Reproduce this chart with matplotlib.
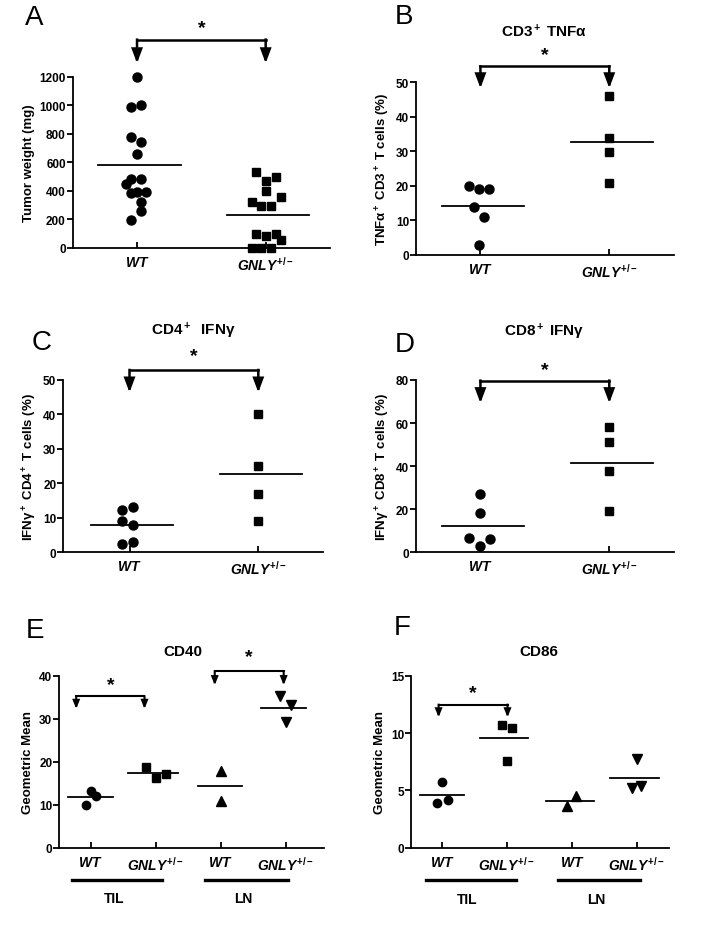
import matplotlib
matplotlib.use("Agg")
import matplotlib.pyplot as plt
import numpy as np

plt.rcParams['font.family'] = ['Liberation Sans', 'DejaVu Sans']
plt.rcParams['font.weight'] = 'bold'
plt.rcParams['axes.labelweight'] = 'bold'
plt.rcParams['mathtext.fontset'] = 'custom'
plt.rcParams['mathtext.rm'] = 'Liberation Sans:bold'
plt.rcParams['mathtext.it'] = 'Liberation Sans:italic:bold'
plt.rcParams['mathtext.bf'] = 'Liberation Sans:bold'

# ---- data ----
tick2 = [r'$\mathit{WT}$', r'$\mathit{GNLY}^{+/-}$']
tick4 = [r'$\mathit{WT}$', r'$\mathit{GNLY}^{+/-}$', r'$\mathit{WT}$', r'$\mathit{GNLY}^{+/-}$']
tissues = ['TIL', 'LN']

# A tumor weight (mg)
a_wt = [1200, 989, 1001, 774, 744, 657, 482, 482, 447, 393, 384, 393, 323, 255, 196]
a_wt_dx = [0, -0.047, 0.03, -0.047, 0.03, 0, -0.047, 0.03, -0.086, 0, -0.047, 0.07, 0.03, 0.03, -0.047]
a_ko = [531, 468, 494, 395, 353, 320, 292, 292, 94, 80, 94, 51, 0, 0, 0]
a_ko_dx = [-0.073, 0.005, 0.083, 0.005, 0.122, -0.11, -0.034, 0.044, -0.073, 0.005, 0.083, 0.122, -0.11, -0.034, 0.044]

# B CD3+ TNFa
b_wt = [20.0, 19.0, 19.0, 13.9, 10.9, 3.0]
b_wt_dx = [-0.09, -0.013, 0.07, -0.05, 0.03, -0.01]
b_ko = [45.9, 34.0, 29.9, 20.9]

# C CD4+ IFNg
c_wt = [12.2, 13.1, 9.2, 7.9, 2.4, 3.0]
c_wt_dx = [-0.055, 0.026, -0.055, 0.026, -0.055, 0.026]
c_ko = [40.0, 25.0, 17.0, 9.1]

# D CD8+ IFNg
d_wt = [27.1, 18.1, 6.5, 6.2, 3.1]
d_wt_dx = [0, 0, -0.088, 0.073, 0]
d_ko = [58.3, 51.1, 37.9, 19.0]

# E CD40 geometric mean
e_til_wt = [13.2, 10.0, 12.0]
e_til_wt_dx = [0, -0.07, 0.08]
e_til_ko = [18.8, 16.3, 17.1]
e_til_ko_dx = [-0.15, 0, 0.16]
e_ln_wt = [17.8, 10.8]
e_ln_wt_dx = [0, 0]
e_ln_ko = [35.2, 33.2, 29.2]
e_ln_ko_dx = [-0.08, 0.08, 0]

# F CD86 geometric mean
f_til_wt = [5.7, 3.9, 4.2]
f_til_wt_dx = [0, -0.07, 0.09]
f_til_ko = [10.67, 10.4, 7.56]
f_til_ko_dx = [-0.077, 0.077, 0]
f_ln_wt = [3.66, 4.48]
f_ln_wt_dx = [-0.08, 0.07]
f_ln_ko = [7.73, 5.2, 5.35]
f_ln_ko_dx = [0, -0.08, 0.07]

W, H = 724, 928
fig = plt.figure(figsize=(W / 100, H / 100), dpi=100)
fig.patch.set_facecolor('white')


def fx(x):
    return x / W


def fy(y):
    return 1 - y / H


def make_ax(x0, x1, ytop, ybot):
    ax = fig.add_axes([fx(x0), fy(ybot), fx(x1 - x0), (ybot - ytop) / H])
    ax.spines['top'].set_visible(False)
    ax.spines['right'].set_visible(False)
    for s in ['left', 'bottom']:
        ax.spines[s].set_linewidth(1.3)
    ax.tick_params(axis='y', direction='out', length=4, width=1.3, labelsize=8.5, pad=1)
    ax.tick_params(axis='x', direction='in', length=4, width=1.3, labelsize=10, pad=5)
    ax.set_facecolor('none')
    return ax


def dots(ax, x, vals, dx, marker, ms, half=0.32, shift=0.02):
    xs = x + np.array(dx)
    ax.plot(xs, vals, linestyle='none', marker=marker, ms=ms, color='black', clip_on=False, zorder=3)
    m = np.mean(vals)
    ax.plot([x - half + shift, x + half + shift], [m, m], color='black', lw=1.3, clip_on=False)


def bracket(ax, x0, x1, top, tip, star, hw=0.3, hl=0.8, lw=1.8, ms=14):
    ax.plot([x0, x1], [top, top], color='black', lw=lw, clip_on=False, solid_capstyle='projecting')
    for xx in (x0, x1):
        ax.annotate('', xy=(xx, tip), xytext=(xx, top), annotation_clip=False,
                    arrowprops=dict(arrowstyle='-|>,head_width=%s,head_length=%s' % (hw, hl),
                                    color='black', lw=lw, shrinkA=0, shrinkB=0,
                                    joinstyle='miter', capstyle='projecting'))
    ax.text((x0 + x1) / 2, star, '*', ha='center', va='center', fontsize=ms, clip_on=False)


def letter(x, y, s):
    fig.text(fx(x), fy(y), s, fontsize=20, fontweight='normal', ha='center', va='center')


def group_bar(ax, spans, ybar, ylab):
    tr = ax.get_xaxis_transform()
    for (x0, x1), name in zip(spans, tissues):
        ax.plot([x0, x1], [ybar, ybar], color='black', lw=2.4, transform=tr, clip_on=False)
        ax.text((x0 + x1) / 2 - 0.05, ylab, name, transform=tr, ha='center', va='center', fontsize=10)


# ---- A ----
ax = make_ax(72.7, 330, 77.7, 248.7)
dots(ax, 0, a_wt, a_wt_dx, 'o', 6.5)
dots(ax, 1, a_ko, a_ko_dx, 's', 6)
ax.set_xlim(-0.5, 1.5)
ax.set_ylim(0, 1200)
ax.set_yticks([0, 200, 400, 600, 800, 1000, 1200])
ax.set_xticks([0, 1], tick2)
ax.set_ylabel('Tumor weight (mg)', fontsize=9.5, labelpad=3)
bracket(ax, 0, 1, 1460, 1295, 1545)
letter(34, 18, 'A')

# ---- B ----
ax = make_ax(416, 673.7, 83.3, 256)
dots(ax, 0, b_wt, b_wt_dx, 'o', 6.5)
dots(ax, 1, b_ko, [0] * len(b_ko), 's', 6)
ax.set_xlim(-0.5, 1.5)
ax.set_ylim(0, 50)
ax.set_yticks([0, 10, 20, 30, 40, 50])
ax.set_xticks([0, 1], tick2)
ax.set_ylabel(r'TNFα$^+$ CD3$^+$ T cells (%)', fontsize=9.5, labelpad=3)
bracket(ax, 0, 1, 54.6, 48.3, 58.0)
letter(404, 17.5, 'B')
fig.text(fx(544.5), fy(31.5), r'CD3$^+$ TNFα', fontsize=11, ha='center', va='center')

# ---- C ----
ax = make_ax(63.3, 322.7, 381, 553.3)
dots(ax, 0, c_wt, c_wt_dx, 'o', 6.5)
dots(ax, 1, c_ko, [0] * len(c_ko), 's', 6)
ax.set_xlim(-0.514, 1.5)
ax.set_ylim(0, 50)
ax.set_yticks([0, 10, 20, 30, 40, 50])
ax.set_xticks([0, 1], tick2)
ax.set_ylabel(r'IFNγ$^+$ CD4$^+$ T cells (%)', fontsize=9.5, labelpad=3)
bracket(ax, 0, 1, 52.9, 46.4, 57.0)
letter(42, 343, 'C')
fig.text(fx(193.5), fy(331), r'CD4$^+$  IFNγ', fontsize=11, ha='center', va='center')

# ---- D ----
ax = make_ax(416, 673.7, 381, 553.3)
dots(ax, 0, d_wt, d_wt_dx, 'o', 6.5)
dots(ax, 1, d_ko, [0] * len(d_ko), 's', 6)
ax.set_xlim(-0.5, 1.5)
ax.set_ylim(0, 80)
ax.set_yticks([0, 20, 40, 60, 80])
ax.set_xticks([0, 1], tick2)
ax.set_ylabel(r'IFNγ$^+$ CD8$^+$ T cells (%)', fontsize=9.5, labelpad=3)
bracket(ax, 0, 1, 79.7, 69.3, 85.0)
letter(405, 345, 'D')
fig.text(fx(544), fy(332), r'CD8$^+$ IFNγ', fontsize=11, ha='center', va='center')

# ---- E ----
ax = make_ax(59.3, 324, 676.7, 849)
dots(ax, 0, e_til_wt, e_til_wt_dx, 'o', 6, half=0.345, shift=0.005)
dots(ax, 1, e_til_ko, e_til_ko_dx, 's', 6, half=0.38, shift=-0.04)
dots(ax, 2, e_ln_wt, e_ln_wt_dx, '^', 6.5, half=0.34, shift=-0.005)
dots(ax, 3, e_ln_ko, e_ln_ko_dx, 'v', 6.5, half=0.35, shift=-0.03)
ax.set_xlim(-0.48, 3.59)
ax.set_ylim(0, 40)
ax.set_yticks([0, 10, 20, 30, 40])
ax.set_xticks([0, 1, 2, 3], tick4)
ax.set_ylabel('Geometric Mean', fontsize=9.5, labelpad=4)
bracket(ax, -0.22, 0.83, 35.2, 32.3, 37.9, hw=0.18, hl=0.45, lw=1.5)
bracket(ax, 1.91, 2.97, 41.0, 37.8, 44.4, hw=0.18, hl=0.45, lw=1.5)
group_bar(ax, [(-0.28, 1.1), (1.76, 3.03)], -0.186, -0.29)
letter(35, 631, 'E')
fig.text(fx(183), fy(652), 'CD40', fontsize=11, ha='center', va='center')

# ---- F ----
ax = make_ax(411.3, 668.7, 676.7, 848.7)
dots(ax, 0, f_til_wt, f_til_wt_dx, 'o', 6, half=0.34, shift=0.0)
dots(ax, 1, f_til_ko, f_til_ko_dx, 's', 6, half=0.37, shift=-0.04)
dots(ax, 2, f_ln_wt, f_ln_wt_dx, '^', 6.5, half=0.37, shift=-0.03)
dots(ax, 3, f_ln_ko, f_ln_ko_dx, 'v', 6.5, half=0.38, shift=-0.04)
ax.set_xlim(-0.47, 3.49)
ax.set_ylim(0, 15)
ax.set_yticks([0, 5, 10, 15])
ax.set_xticks([0, 1, 2, 3], tick4)
ax.set_ylabel('Geometric Mean', fontsize=9.5, labelpad=4)
bracket(ax, -0.05, 1.01, 12.47, 11.37, 13.5, hw=0.18, hl=0.45, lw=1.5)
group_bar(ax, [(-0.25, 1.14), (1.79, 3.05)], -0.19, -0.3)
letter(402, 628, 'F')
fig.text(fx(539), fy(652), 'CD86', fontsize=11, ha='center', va='center')

fig.savefig('out.png', dpi=100)
